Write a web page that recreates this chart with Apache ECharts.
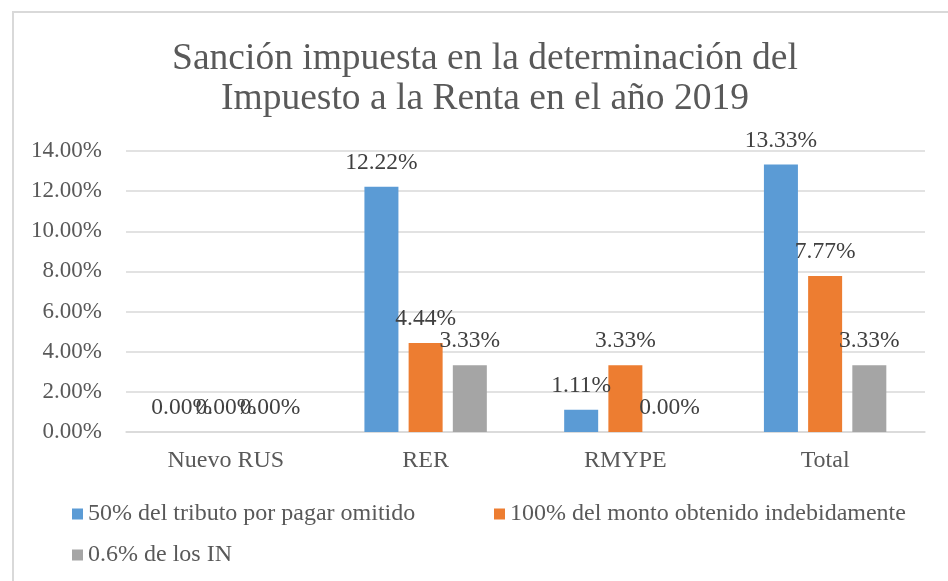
<!DOCTYPE html>
<html>
<head>
<meta charset="utf-8">
<script src="https://cdn.jsdelivr.net/npm/echarts@6/dist/echarts.min.js"></script>
<style>
html,body{margin:0;padding:0;background:#fff;}
#chart{width:948px;height:581px;}
</style>
</head>
<body>
<div id="chart"></div>
<script>
const categories = ['Nuevo RUS', 'RER', 'RMYPE', 'Total'];
const seriesNames = ['50% del tributo por pagar omitido', '100% del monto obtenido indebidamente', '0.6% de los IN'];
const tributoOmitido = [0.00, 12.22, 1.11, 13.33];
const montoIndebido = [0.00, 4.44, 3.33, 7.77];
const ingresosNetos = [0.00, 3.33, 0.00, 3.33];
const yTicks = { min: 0, max: 14, interval: 2 };
const colors = ['#5B9BD5', '#ED7D31', '#A5A5A5'];

const FONT = '"Liberation Serif", "Times New Roman", serif';
const chart = echarts.init(document.getElementById('chart'));

const labelStyle = {
  show: true,
  position: 'top',
  distance: 12,
  fontFamily: FONT,
  fontSize: 23.5,
  color: '#404040',
  formatter: p => p.value.toFixed(2) + '%'
};

const values = [tributoOmitido, montoIndebido, ingresosNetos];

const legendBase = {
  icon: 'rect',
  itemWidth: 11,
  itemHeight: 11,
  padding: 0,
  textStyle: { fontFamily: FONT, fontSize: 24, color: '#595959' },
  selectedMode: false
};

chart.setOption({
  animation: false,
  backgroundColor: '#ffffff',
  title: {
    text: 'Sanción impuesta en la determinación del\nImpuesto a la Renta en el año 2019',
    left: 480,
    top: 34,
    textAlign: 'center',
    textStyle: { fontFamily: FONT, fontSize: 37.5, fontWeight: 'normal', color: '#595959', lineHeight: 40 }
  },
  graphic: [{
    type: 'rect',
    shape: { x: 13, y: 12, width: 2000, height: 2000 },
    style: { fill: 'none', stroke: '#D9D9D9', lineWidth: 2 },
    silent: true
  }],
  legend: [
    Object.assign({}, legendBase, { data: [seriesNames[0]], left: 72, top: 502 }),
    Object.assign({}, legendBase, { data: [seriesNames[1]], left: 494, top: 502 }),
    Object.assign({}, legendBase, { data: [seriesNames[2]], left: 72, top: 543 })
  ],
  grid: { left: 126, right: 23, top: 151, bottom: 149, containLabel: false },
  xAxis: {
    type: 'category',
    data: categories,
    axisLine: { lineStyle: { color: '#D9D9D9', width: 1.5 } },
    axisTick: { show: false },
    axisLabel: { fontFamily: FONT, fontSize: 24, color: '#595959', margin: 17 }
  },
  yAxis: {
    type: 'value',
    min: yTicks.min,
    max: yTicks.max,
    interval: yTicks.interval,
    axisLine: { show: false },
    axisTick: { show: false },
    splitLine: { lineStyle: { color: '#D9D9D9', width: 1.5 } },
    axisLabel: { fontFamily: FONT, fontSize: 23, color: '#595959', margin: 24, formatter: v => v.toFixed(2) + '%' }
  },
  series: seriesNames.map((name, i) => ({
    name: name,
    type: 'bar',
    data: values[i],
    barWidth: 34,
    barGap: '30%',
    itemStyle: { color: colors[i] },
    label: labelStyle
  }))
});
</script>
</body>
</html>
